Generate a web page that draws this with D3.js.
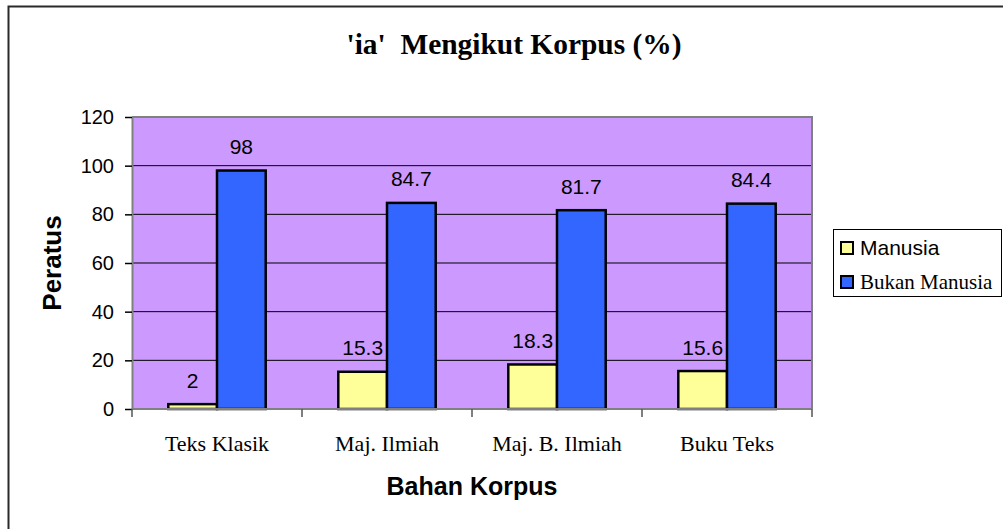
<!DOCTYPE html>
<html>
<head>
<meta charset="utf-8">
<script src="https://cdn.jsdelivr.net/npm/d3@7"></script>
<style>
  body { margin: 0; background: #fff; }
  svg { display: block; }
</style>
</head>
<body>
<script>
// data
var categories = ["Teks Klasik", "Maj. Ilmiah", "Maj. B. Ilmiah", "Buku Teks"];
var seriesNames = ["Manusia", "Bukan Manusia"];
var manusia = [2, 15.3, 18.3, 15.6];
var bukanManusia = [98, 84.7, 81.7, 84.4];
var yTicks = [0, 20, 40, 60, 80, 100, 120];

var W = 1003, H = 529;
var colors = {"Manusia": "#ffff99", "Bukan Manusia": "#3366ff"};

var svg = d3.select("body").append("svg")
  .attr("width", W)
  .attr("height", H);

// outer frame (runs off right/bottom)
svg.append("rect")
  .attr("x", 8.5).attr("y", 6.5)
  .attr("width", W + 20).attr("height", H + 20)
  .attr("fill", "none")
  .attr("stroke", "#2a2a2a")
  .attr("stroke-width", 2);

svg.append("text")
  .attr("x", 514).attr("y", 54)
  .attr("text-anchor", "middle")
  .attr("font-family", "'Liberation Serif', 'Times New Roman', serif")
  .attr("font-weight", "bold")
  .attr("font-size", 29)
  .attr("textLength", 335)
  .attr("lengthAdjust", "spacingAndGlyphs")
  .style("white-space", "pre")
  .text("'ia'  Mengikut Korpus (%)");

var plot = {left: 132, right: 812, top: 117, bottom: 409};

var x = d3.scaleBand().domain(categories).range([plot.left, plot.right]).padding(0);
var xs = d3.scaleBand().domain(seriesNames).range([0, x.bandwidth()])
  .paddingInner(0).paddingOuter(0.745);
var y = d3.scaleLinear().domain([0, 120]).range([plot.bottom, plot.top]);

var rows = categories.map(function(c, i) {
  return {cat: c, values: [
    {name: "Manusia", value: manusia[i]},
    {name: "Bukan Manusia", value: bukanManusia[i]}
  ]};
});

var g = svg.append("g");

g.append("rect")
  .attr("x", plot.left).attr("y", plot.top)
  .attr("width", plot.right - plot.left)
  .attr("height", plot.bottom - plot.top)
  .attr("fill", "#cc99ff");

// gridlines
g.selectAll(".grid")
  .data(yTicks.filter(function(t) { return t > 0 && t < 120; }))
  .enter().append("line")
  .attr("x1", plot.left).attr("x2", plot.right)
  .attr("y1", function(d) { return y(d); })
  .attr("y2", function(d) { return y(d); })
  .attr("stroke", "#000")
  .attr("stroke-width", 1);

// top and right border of plot area
g.append("path")
  .attr("d", "M" + plot.left + "," + plot.top + "H" + plot.right + "V" + plot.bottom)
  .attr("fill", "none")
  .attr("stroke", "#808080")
  .attr("stroke-width", 2);

// bars
var grp = g.selectAll(".grp")
  .data(rows)
  .enter().append("g")
  .attr("transform", function(d) { return "translate(" + x(d.cat) + ",0)"; });

grp.selectAll("rect")
  .data(function(d) { return d.values; })
  .enter().append("rect")
  .attr("x", function(d) { return xs(d.name); })
  .attr("width", xs.bandwidth())
  .attr("y", function(d) { return y(d.value); })
  .attr("height", function(d) { return y(0) - y(d.value); })
  .attr("fill", function(d) { return colors[d.name]; })
  .attr("stroke", "#000")
  .attr("stroke-width", 2.5);

grp.selectAll(".lbl")
  .data(function(d) { return d.values; })
  .enter().append("text")
  .attr("x", function(d) { return xs(d.name) + xs.bandwidth() / 2; })
  .attr("y", function(d) { return y(d.value) - 16.5; })
  .attr("text-anchor", "middle")
  .attr("font-family", "'Liberation Sans', Arial, sans-serif")
  .attr("font-size", 21)
  .attr("fill", "#000")
  .text(function(d) { return d.value; });

// y axis
var yAxis = svg.append("g")
  .attr("transform", "translate(" + plot.left + ",0)")
  .call(d3.axisLeft(y).tickValues(yTicks).tickSize(7).tickSizeOuter(0).tickPadding(11));
yAxis.select(".domain").attr("stroke", "#808080").attr("stroke-width", 2);
yAxis.selectAll(".tick line").attr("stroke", "#000").attr("stroke-width", 1.5);
yAxis.selectAll("text")
  .attr("font-family", "'Liberation Sans', Arial, sans-serif")
  .attr("font-size", 20)
  .attr("fill", "#000");

// x axis with ticks at category boundaries
var xAxis = svg.append("g")
  .attr("transform", "translate(0," + plot.bottom + ")");
xAxis.append("line")
  .attr("x1", plot.left).attr("x2", plot.right)
  .attr("stroke", "#808080").attr("stroke-width", 2);
var bounds = categories.map(function(c) { return x(c); }).concat([x(categories[categories.length - 1]) + x.bandwidth()]);
xAxis.selectAll(".xt")
  .data(bounds)
  .enter().append("line")
  .attr("x1", function(d) { return d; }).attr("x2", function(d) { return d; })
  .attr("y1", 0).attr("y2", 8)
  .attr("stroke", "#555").attr("stroke-width", 1.5);
xAxis.selectAll(".xl")
  .data(categories)
  .enter().append("text")
  .attr("x", function(d) { return x(d) + x.bandwidth() / 2; })
  .attr("y", 42)
  .attr("text-anchor", "middle")
  .attr("font-family", "'Liberation Serif', 'Times New Roman', serif")
  .attr("font-size", 22)
  .attr("fill", "#000")
  .text(function(d) { return d; });

// axis titles
svg.append("text")
  .attr("x", (plot.left + plot.right) / 2).attr("y", 495)
  .attr("text-anchor", "middle")
  .attr("font-family", "'Liberation Sans', Arial, sans-serif")
  .attr("font-weight", "bold")
  .attr("font-size", 25)
  .text("Bahan Korpus");

svg.append("text")
  .attr("transform", "translate(61," + (plot.top + plot.bottom) / 2 + ") rotate(-90)")
  .attr("text-anchor", "middle")
  .attr("font-family", "'Liberation Sans', Arial, sans-serif")
  .attr("font-weight", "bold")
  .attr("font-size", 26)
  .text("Peratus");

// legend
var legend = svg.append("g");
legend.append("rect")
  .attr("x", 833.5).attr("y", 229.5)
  .attr("width", 168).attr("height", 67)
  .attr("fill", "#fff")
  .attr("stroke", "#000").attr("stroke-width", 1);

var legendFonts = ["'Liberation Sans', Arial, sans-serif", "'Liberation Serif', 'Times New Roman', serif"];
var item = legend.selectAll(".item")
  .data(seriesNames)
  .enter().append("g")
  .attr("transform", function(d, i) { return "translate(0," + (i * 34) + ")"; });
item.append("rect")
  .attr("x", 841).attr("y", 242)
  .attr("width", 12).attr("height", 12)
  .attr("fill", function(d) { return colors[d]; })
  .attr("stroke", "#000").attr("stroke-width", 2);
item.append("text")
  .attr("x", 860).attr("y", 254.5)
  .attr("font-family", function(d, i) { return legendFonts[i]; })
  .attr("font-size", 21)
  .text(function(d) { return d; });
</script>
</body>
</html>
